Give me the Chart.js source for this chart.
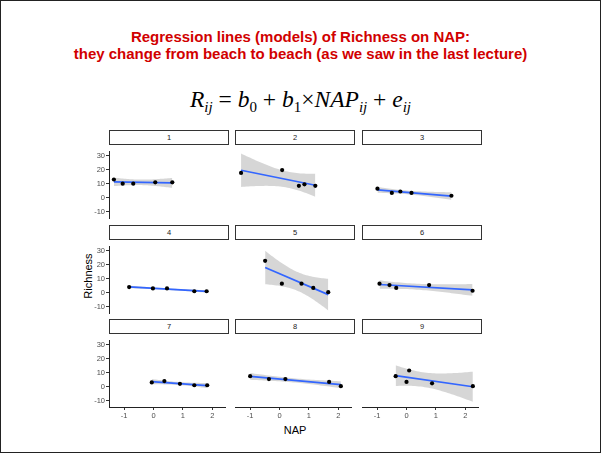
<!DOCTYPE html>
<html>
<head>
<meta charset="utf-8">
<script src="https://cdn.jsdelivr.net/npm/chart.js@4.4.1/dist/chart.umd.min.js"></script>
<style>
  html, body { margin: 0; padding: 0; }
  body { width: 601px; height: 453px; position: relative; background: #fff; overflow: hidden; font-family: "Liberation Sans", Arial, sans-serif; }
  #frame { position: absolute; left: 0; top: 0; width: 599px; height: 451px; border: 1px solid #222; }
  .title { position: absolute; left: 0; width: 601px; text-align: center; color: #d10000; font-weight: bold; font-size: 15px; line-height: 17px; }
  #eq { position: absolute; left: 0; width: 601px; top: 86px; text-align: center; font-family: "Liberation Serif", serif; font-size: 23.5px; color: #000; }
  #eq sub { font-size: 15px; vertical-align: -5px; line-height: 0; }
  .strip { position: absolute; box-sizing: border-box; height: 15px; border: 1px solid #333; background: #fff; text-align: center; font-size: 7.5px; line-height: 13px; color: #1a1a1a; }
  canvas { position: absolute; }
  .axis-title { position: absolute; font-size: 11px; color: #000; }
</style>
</head>
<body>
<div id="frame"></div>
<div class="title" style="top:28px">Regression lines (models) of Richness on NAP:</div>
<div class="title" style="top:45px">they change from beach to beach (as we saw in the last lecture)</div>
<div id="eq"><i>R</i><sub><i>ij</i></sub> = <i>b</i><sub>0</sub> + <i>b</i><sub>1</sub>×<i>NAP</i><sub><i>ij</i></sub> + <i>e</i><sub><i>ij</i></sub></div>
<div class="axis-title" style="left:295px;top:424px;transform:translateX(-50%)">NAP</div>
<div class="axis-title" style="left:88px;top:276px;transform:translate(-50%,-50%) rotate(-90deg)">Richness</div>

<script>
// facets: one beach per panel
const beachNames = ['1', '2', '3', '4', '5', '6', '7', '8', '9'];

// NAP per beach
const napValues = [
  [-1.35, -1.05, -0.69, 0.06, 0.64],
  [-1.31, 0.09, 0.66, 0.85, 1.22],
  [-0.99, -0.50, -0.21, 0.17, 1.53],
  [-0.83, -0.02, 0.46, 1.39, 1.81],
  [-0.49, 0.08, 0.75, 1.15, 1.66],
  [-0.92, -0.58, -0.35, 0.77, 2.25],
  [-0.06, 0.37, 0.90, 1.39, 1.83],
  [-1.00, -0.36, 0.20, 1.69, 2.09],
  [-0.37, 0.09, 0.00, 0.87, 2.26]
];

// Richness per beach
const richnessValues = [
  [13, 10, 10, 11, 11],
  [17, 19, 8, 9, 8],
  [6, 3, 4, 3, 1],
  [4, 3, 3, 1, 1],
  [22, 6, 6, 3, 0],
  [6, 5, 3, 5, 1],
  [3, 4, 2, 1, 1],
  [7, 5, 5, 3, 0],
  [7, 11, 3, 2, 0]
];

const xTicks = [-1, 0, 1, 2];
const yTicks = [-10, 0, 10, 20, 30];
const xRange = [-1.516, 2.435];
const yRange = [-14.6, 33.1];

// panel geometry
const colLeft = [109, 235, 362];
const rowTop = [130, 224.6, 319.2];
const panelW = 120, panelH = 72;
const axisW = 30, axisH = 22;
const T975 = 3.182446; // t quantile, df = 3

Chart.defaults.font.family = '"Liberation Sans", Arial, sans-serif';
Chart.defaults.font.size = 7.5;
Chart.defaults.color = '#4d4d4d';

// same as geom_smooth(method = "lm") per facet
function lmFit(xs, ys) {
  const n = xs.length;
  const mx = xs.reduce((a, b) => a + b, 0) / n;
  const my = ys.reduce((a, b) => a + b, 0) / n;
  let sxx = 0, sxy = 0;
  xs.forEach((x, i) => { sxx += (x - mx) ** 2; sxy += (x - mx) * (ys[i] - my); });
  const b1 = sxy / sxx, b0 = my - b1 * mx;
  let sse = 0;
  xs.forEach((x, i) => { sse += (ys[i] - b0 - b1 * x) ** 2; });
  const s = Math.sqrt(sse / (n - 2));
  return { n, mx, sxx, b0, b1, s };
}

function band(fit, lo, hi, steps) {
  const upper = [], lower = [];
  for (let k = 0; k <= steps; k++) {
    const x = lo + (hi - lo) * k / steps;
    const yhat = fit.b0 + fit.b1 * x;
    const se = fit.s * Math.sqrt(1 / fit.n + (x - fit.mx) ** 2 / fit.sxx);
    upper.push({ x: x, y: yhat + T975 * se });
    lower.push({ x: x, y: yhat - T975 * se });
  }
  return { upper, lower };
}

beachNames.forEach(function (name, i) {
  const col = i % 3, row = Math.floor(i / 3);
  const left = colLeft[col], top = rowTop[row];
  const xs = napValues[i], ys = richnessValues[i];

  let strip = document.createElement('div');
  strip.className = 'strip';
  strip.style.left = left + 'px';
  strip.style.top = top + 'px';
  strip.style.width = panelW + 'px';
  strip.textContent = name;
  document.body.appendChild(strip);

  let canvas = document.createElement('canvas');
  canvas.width = panelW + axisW;
  canvas.height = panelH + axisH;
  canvas.style.left = (left - axisW) + 'px';
  canvas.style.top = (top + 16) + 'px';
  document.body.appendChild(canvas);

  const fit = lmFit(xs, ys);
  const lo = Math.min(...xs), hi = Math.max(...xs);
  const rib = band(fit, lo, hi, 40);
  const showY = col === 0, showX = row === 2;

  new Chart(canvas.getContext('2d'), {
    type: 'line',
    data: {
      datasets: [
        {
          data: xs.map((x, k) => ({ x: x, y: ys[k] })),
          showLine: false,
          pointRadius: 2.1,
          pointBorderWidth: 0,
          pointBackgroundColor: '#000',
        },
        {
          data: [{ x: lo, y: fit.b0 + fit.b1 * lo }, { x: hi, y: fit.b0 + fit.b1 * hi }],
          borderColor: '#3366ff',
          borderWidth: 1.7,
          pointRadius: 0,
        },
        {
          data: rib.upper,
          borderWidth: 0,
          pointRadius: 0,
          fill: '+1',
          backgroundColor: 'rgba(153,153,153,0.4)',
        },
        {
          data: rib.lower,
          borderWidth: 0,
          pointRadius: 0,
          fill: false,
        },
      ],
    },
    options: {
      responsive: false,
      animation: false,
      events: [],
      layout: { padding: 0 },
      plugins: { legend: { display: false }, tooltip: { enabled: false } },
      scales: {
        x: {
          type: 'linear',
          min: xRange[0],
          max: xRange[1],
          afterBuildTicks: (s) => { s.ticks = xTicks.map(v => ({ value: v })); },
          afterFit: (s) => { s.height = axisH; },
          ticks: { display: showX, padding: 1, maxRotation: 0, autoSkip: false },
          grid: { display: showX, drawOnChartArea: false, tickLength: 3, color: '#333' },
          border: { display: showX, color: '#222', width: 1 },
        },
        y: {
          min: yRange[0],
          max: yRange[1],
          afterBuildTicks: (s) => { s.ticks = yTicks.map(v => ({ value: v })); },
          afterFit: (s) => { s.width = axisW; },
          ticks: { display: showY, padding: 1, autoSkip: false },
          grid: { display: showY, drawOnChartArea: false, tickLength: 3, color: '#333' },
          border: { display: showY, color: '#222', width: 1 },
        },
      },
    },
  });
});
</script>
</body>
</html>
